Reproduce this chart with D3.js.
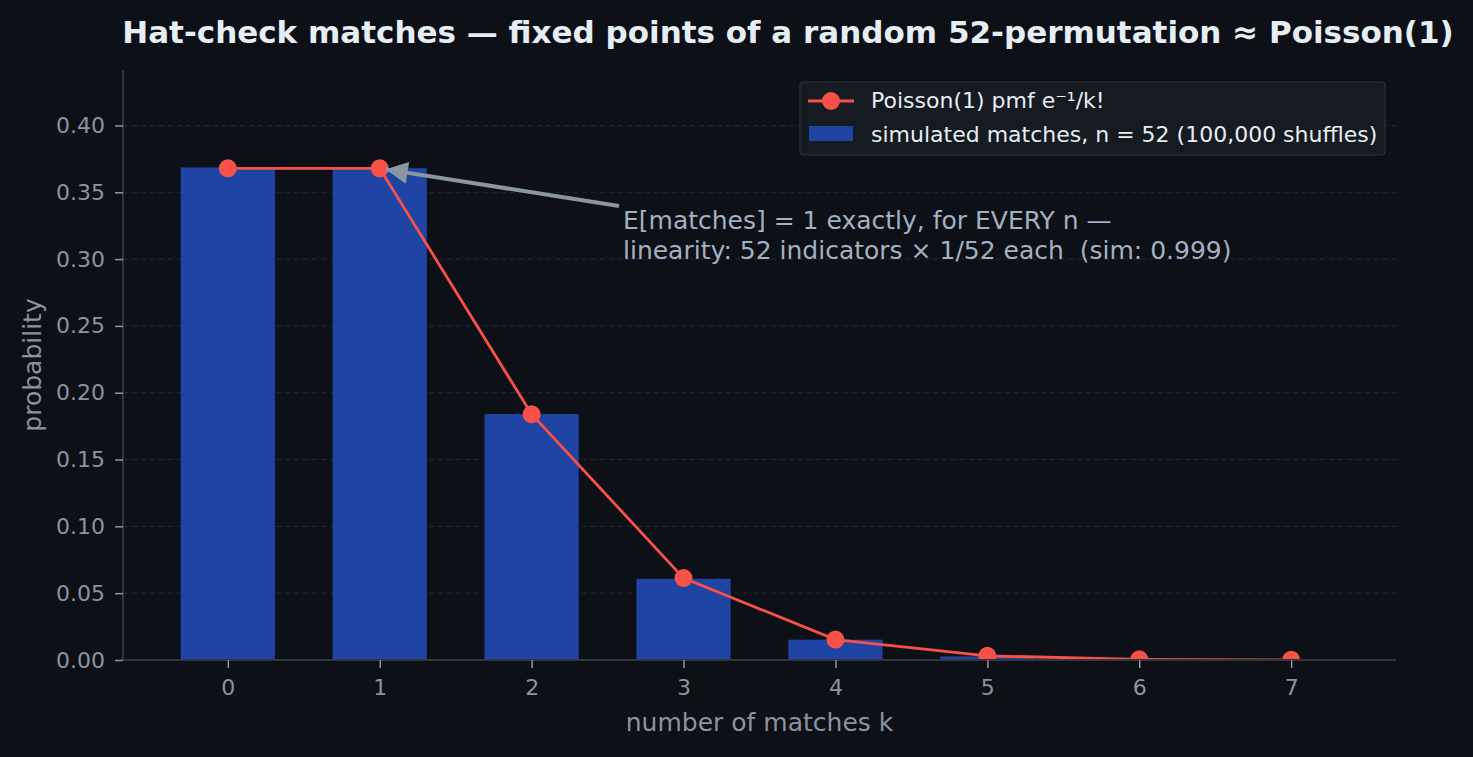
<!DOCTYPE html>
<html>
<head>
<meta charset="utf-8">
<script src="https://cdn.jsdelivr.net/npm/d3@7"></script>
<style>
  html, body { margin: 0; padding: 0; background: #0d1017; }
  svg { display: block; font-family: "DejaVu Sans", sans-serif; }
</style>
</head>
<body>
<svg id="chart" width="1473" height="757"></svg>
<script>
// data
var ks = [0, 1, 2, 3, 4, 5, 6, 7];
var simulated = [0.3686, 0.3680, 0.1840, 0.0608, 0.0152, 0.0027, 0.0005, 0.0001];
var poisson = [0.3679, 0.3679, 0.1839, 0.0613, 0.0153, 0.0031, 0.0005, 0.0001];
var yTicks = [0.00, 0.05, 0.10, 0.15, 0.20, 0.25, 0.30, 0.35, 0.40];

var W = 1473, H = 757;
var margin = {left: 123, right: 77, top: 70, bottom: 97};

var svg = d3.select("#chart");
svg.append("rect").attr("width", W).attr("height", H).attr("fill", "#0d1017");

var x = d3.scaleLinear().domain([-0.69, 7.69]).range([margin.left, W - margin.right]);
var y = d3.scaleLinear().domain([0, 0.4415]).range([H - margin.bottom, margin.top]);
var barW = x(0.62) - x(0);

svg.append("defs").append("clipPath").attr("id", "plotclip")
  .append("rect")
  .attr("x", margin.left).attr("y", margin.top)
  .attr("width", W - margin.right - margin.left)
  .attr("height", H - margin.bottom - margin.top);

// grid
svg.append("g").selectAll("line").data(yTicks.slice(1)).enter().append("line")
  .attr("x1", margin.left).attr("x2", W - margin.right)
  .attr("y1", function(d) { return y(d); }).attr("y2", function(d) { return y(d); })
  .attr("stroke", "#232831").attr("stroke-width", 1).attr("stroke-dasharray", "5,4");

var plot = svg.append("g").attr("clip-path", "url(#plotclip)");

plot.selectAll("rect.bar").data(ks).enter().append("rect")
  .attr("class", "bar")
  .attr("x", function(d) { return x(d) - barW / 2; })
  .attr("width", barW)
  .attr("y", function(d, i) { return y(simulated[i]); })
  .attr("height", function(d, i) { return y(0) - y(simulated[i]); })
  .attr("fill", "#1f44a3");

var line = d3.line().x(function(d) { return x(d); }).y(function(d, i) { return y(poisson[i]); });
plot.append("path").datum(ks).attr("d", line)
  .attr("fill", "none").attr("stroke", "#f85149").attr("stroke-width", 2.8);

plot.selectAll("circle").data(ks).enter().append("circle")
  .attr("cx", function(d) { return x(d); })
  .attr("cy", function(d, i) { return y(poisson[i]); })
  .attr("r", 9)
  .attr("fill", "#f85149");

// axes
var yAxis = svg.append("g").attr("transform", "translate(" + margin.left + ",0)")
  .call(d3.axisLeft(y).tickValues(yTicks).tickFormat(d3.format(".2f")).tickSize(8).tickPadding(10));
var xAxis = svg.append("g").attr("transform", "translate(0," + y(0) + ")")
  .call(d3.axisBottom(x).tickValues(ks).tickFormat(d3.format("d")).tickSize(8).tickPadding(11));

[yAxis, xAxis].forEach(function(a) {
  a.select(".domain").attr("stroke", "#30363d").attr("stroke-width", 2);
  a.selectAll(".tick line").attr("stroke", "#8b949e").attr("stroke-width", 1.5);
  a.selectAll(".tick text").attr("fill", "#8b949e").style("font-size", "22px")
    .style("font-family", "DejaVu Sans, sans-serif");
});
// x domain path runs full width, y domain from top
yAxis.select(".domain").attr("d", "M0," + margin.top + "V" + y(0));
xAxis.select(".domain").attr("d", "M" + margin.left + ",0H" + (W - margin.right));

// axis labels
svg.append("text").attr("x", (margin.left + W - margin.right) / 2).attr("y", 731)
  .attr("text-anchor", "middle").attr("fill", "#8b949e").style("font-size", "25px")
  .text("number of matches k");
svg.append("text").attr("transform", "translate(41," + ((margin.top + y(0)) / 2) + ") rotate(-90)")
  .attr("text-anchor", "middle").attr("fill", "#8b949e").style("font-size", "25px")
  .text("probability");

// title
svg.append("text").attr("x", 788).attr("y", 43)
  .attr("text-anchor", "middle").attr("fill", "#e6edf3")
  .style("font-size", "31px").style("font-weight", "bold")
  .text("Hat-check matches \u2014 fixed points of a random 52-permutation \u2248 Poisson(1)");

// annotation
svg.append("defs").append("marker").attr("id", "head")
  .attr("viewBox", "0 0 10 10").attr("refX", 10).attr("refY", 5)
  .attr("markerWidth", 7).attr("markerHeight", 5.5).attr("markerUnits", "strokeWidth")
  .attr("orient", "auto")
  .append("path").attr("d", "M0,0L10,5L0,10z").attr("fill", "#8b96a3");
svg.append("line")
  .attr("x1", 619).attr("y1", 206)
  .attr("x2", x(1) + 6).attr("y2", y(poisson[1]) + 1)
  .attr("stroke", "#8b96a3").attr("stroke-width", 4)
  .attr("marker-end", "url(#head)");
var ann = svg.append("text").attr("fill", "#a3b1c2").style("font-size", "25px");
ann.append("tspan").attr("x", 623).attr("y", 229).text("E[matches] = 1 exactly, for EVERY n \u2014");
ann.append("tspan").attr("x", 623).attr("y", 259)
  .text("linearity: 52 indicators \u00d7 1/52 each\u00a0 (sim: 0.999)");

// legend
var lg = svg.append("g").attr("transform", "translate(800,82)");
lg.append("rect").attr("width", 585).attr("height", 73).attr("rx", 3)
  .attr("fill", "#161b22").attr("stroke", "#30363d").attr("stroke-width", 1);
lg.append("line").attr("x1", 8).attr("x2", 54).attr("y1", 19).attr("y2", 19)
  .attr("stroke", "#f85149").attr("stroke-width", 2.8);
lg.append("circle").attr("cx", 31).attr("cy", 19).attr("r", 9).attr("fill", "#f85149");
lg.append("rect").attr("x", 9).attr("y", 44).attr("width", 44).attr("height", 15).attr("fill", "#1f44a3");
lg.append("text").attr("x", 71).attr("y", 26).attr("fill", "#e6edf3").style("font-size", "22px")
  .text("Poisson(1) pmf e\u207b\u00b9/k!");
lg.append("text").attr("x", 71).attr("y", 60).attr("fill", "#e6edf3").style("font-size", "22px")
  .text("simulated matches, n = 52 (100,000 shuffles)");
</script>
</body>
</html>
